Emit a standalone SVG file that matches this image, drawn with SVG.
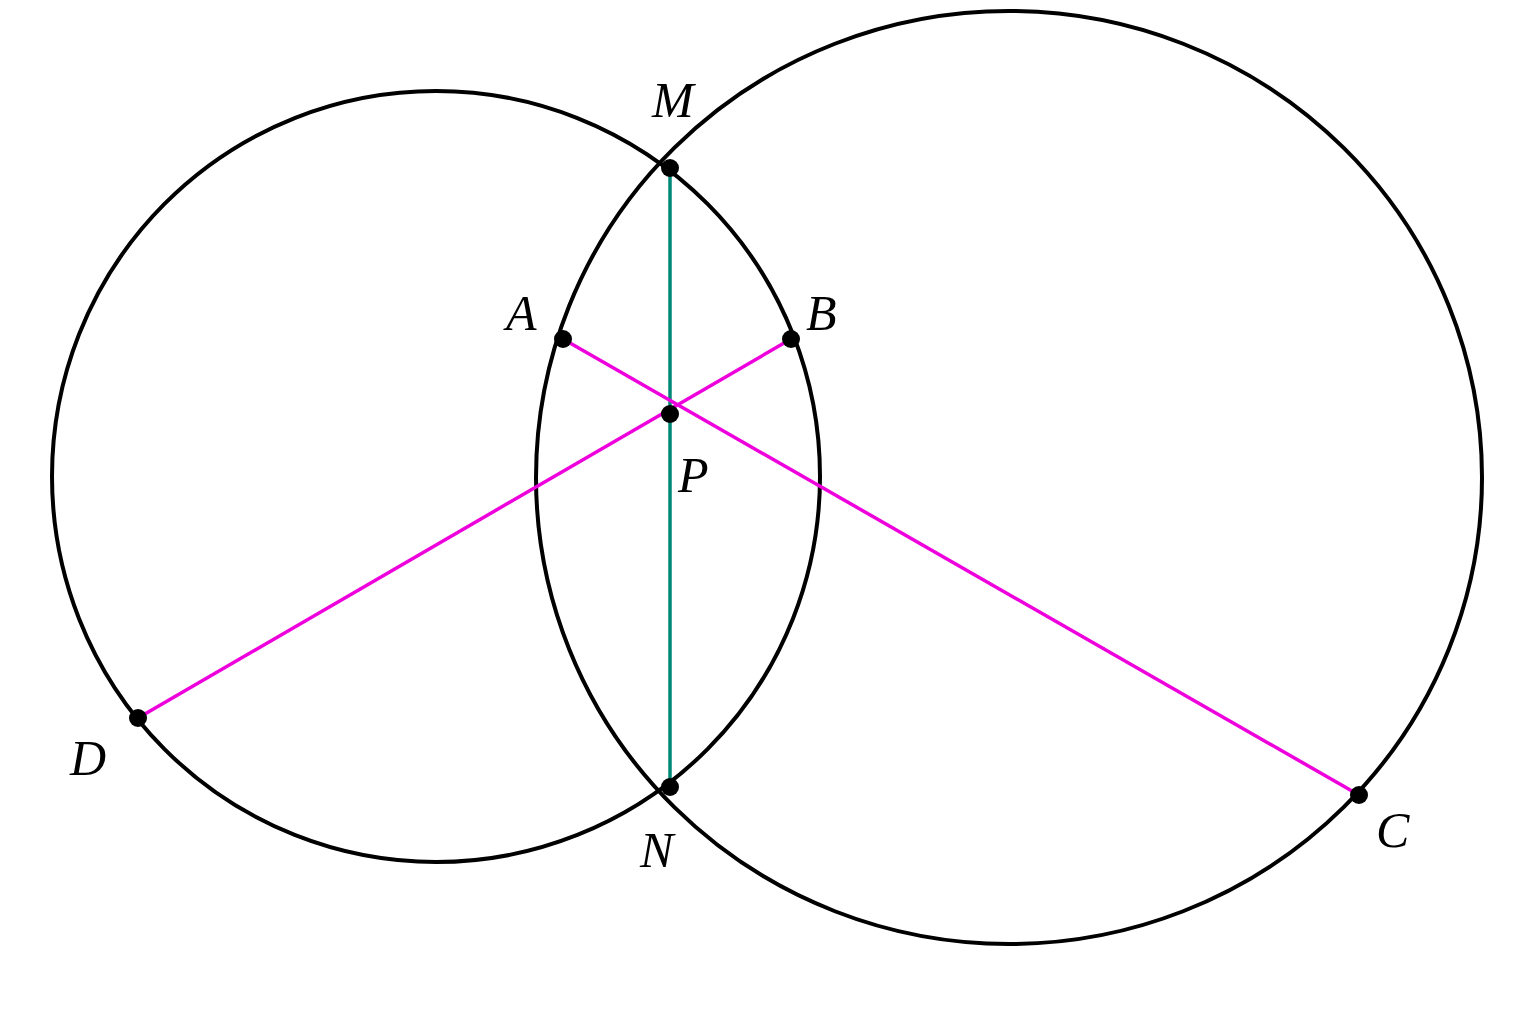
<svg xmlns="http://www.w3.org/2000/svg" width="1536" height="1024" viewBox="0 0 1536 1024">
<style>
.c{fill:none;stroke:#000;stroke-width:4}
.m{stroke:#ee00dd;stroke-width:3.5}
.g{stroke:#008877;stroke-width:3.5}
.d{fill:#000}
text{font-family:"Liberation Serif",serif;font-style:italic;font-size:50px;fill:#000}
</style>
<rect width="1536" height="1024" fill="#fff"/>
<g id="circles">
<ellipse id="left-circle" class="c" cx="436" cy="476.5" rx="384" ry="385.5"/>
<ellipse id="right-circle" class="c" cx="1009" cy="477.5" rx="473" ry="466.5"/>
</g>
<g id="connectors">
<line class="g" x1="670" y1="168" x2="670" y2="787"/>
<line class="m" x1="563" y1="339" x2="1359" y2="795"/>
<line class="m" x1="791" y1="339" x2="138" y2="718"/>
</g>
<g id="M"><circle class="d" cx="670" cy="168" r="9"/><text x="652" y="117">M</text></g>
<g id="N"><circle class="d" cx="670" cy="787" r="9"/><text x="640" y="867">N</text></g>
<g id="A"><circle class="d" cx="563" cy="339" r="9"/><text x="506" y="330">A</text></g>
<g id="B"><circle class="d" cx="791" cy="339" r="9"/><text x="806" y="330">B</text></g>
<g id="P"><circle class="d" cx="670" cy="414" r="9"/><text x="678" y="492">P</text></g>
<g id="D"><circle class="d" cx="138" cy="718" r="9"/><text x="70" y="775">D</text></g>
<g id="C"><circle class="d" cx="1359" cy="795" r="9"/><text x="1376" y="847">C</text></g>
</svg>
